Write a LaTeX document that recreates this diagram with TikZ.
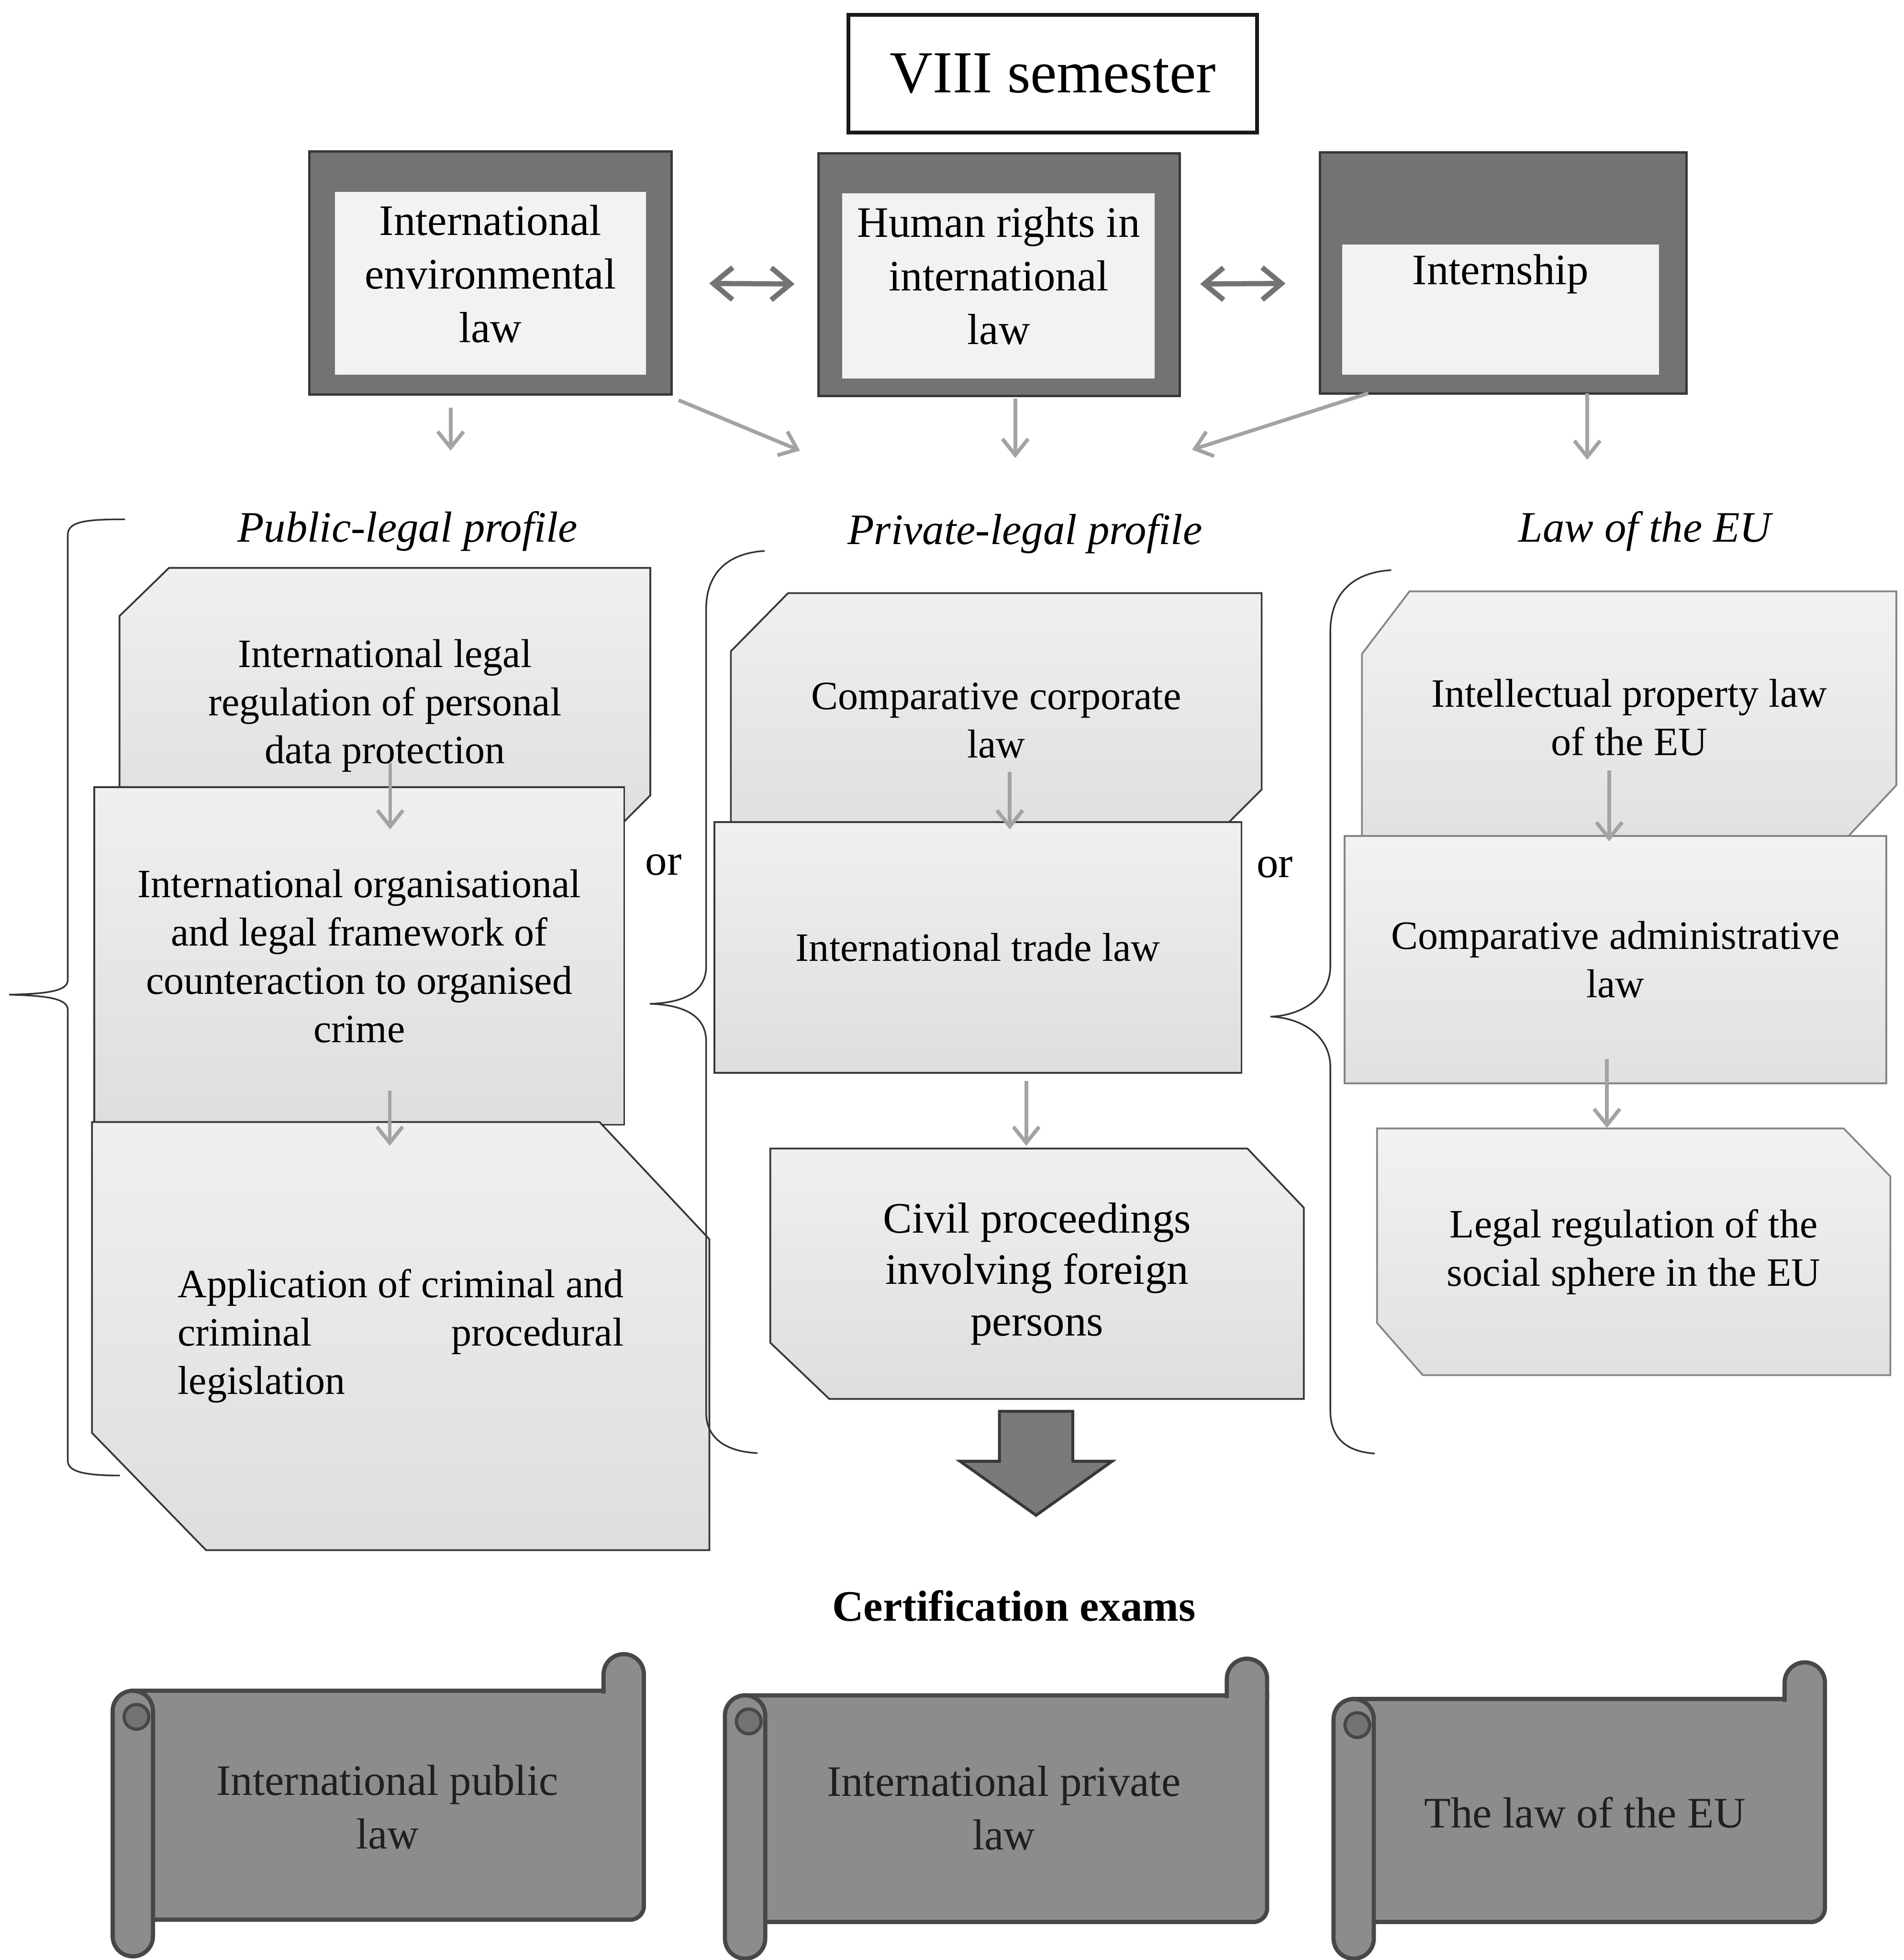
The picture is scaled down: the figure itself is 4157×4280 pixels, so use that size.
\documentclass[tikz,border=0pt]{standalone}
\usepackage{fontspec}
\setmainfont{Liberation Serif}
\usetikzlibrary{arrows.meta,calc}
\pgfdeclarelayer{bg}
\pgfsetlayers{bg,main}
\newcommand\fsz[2]{\fontsize{#1}{#2}\selectfont}
\newsavebox\firstline

% horizontal scroll: left, top, right, bottom (in px units)
\newcommand\drawscroll[4]{%
  \filldraw[scrollbody] (#1+44,#2+80) -- (#3,#2+80) [rounded corners=0.3cm] -- (#3,#4-80) -- (#1+44,#4-80) [sharp corners] -- cycle;
  \filldraw[scrollbody, rounded corners=0.44cm] (#3-88,#2+86) -- (#3-88,#2) -- (#3,#2) -- (#3,#2+86);
  \filldraw[scrollbody, rounded corners=0.44cm] (#1,#2+80) rectangle (#1+88,#4);
  \filldraw[curl] (#1+52,#2+137) circle[radius=0.27cm];
}

\begin{document}
\begin{tikzpicture}[x=0.01cm, y=-0.01cm,
  sembox/.style={draw=black!90, line width=2.4pt, fill=white, inner sep=0pt, font=\fsz{37}{44}},
  topframe/.style={draw=black!78, line width=1.5pt, fill=black!55, inner sep=0pt},
  topinner/.style={fill=black!5},
  toptxt/.style={font=\fsz{27}{33.3}, align=center, inner sep=0pt},
  slot/.style={inner sep=0pt, align=center, font=\fsz{25}{30}},
  darkedge/.style={draw=black!78, line width=1.1pt, top color=black!6, bottom color=black!13},
  lightedge/.style={draw=black!48, line width=1.1pt, top color=black!5, bottom color=black!12},
  arr/.style={draw=black!36, line width=2.3pt, -{Straight Barb[length=10pt,width=16pt]}},
  dblarr/.style={draw=black!55, line width=3.2pt, {Straight Barb[length=12pt,width=20pt]}-{Straight Barb[length=12pt,width=20pt]}},
  brace/.style={draw=black!80, line width=1pt},
  heading/.style={font=\fsz{27}{33}\itshape, inner sep=0pt},
  ortxt/.style={font=\fsz{27}{33}, inner sep=0pt},
  scrollbody/.style={fill=black!45, draw=black!72, line width=2.6pt},
  curl/.style={fill=black!55, draw=black!72, line width=2pt},
  scrolltxt/.style={font=\fsz{27}{33.3}, align=center, text=black!88, inner sep=0pt},
  bigarrow/.style={fill=black!52, draw=black!78, line width=1.8pt, line join=miter},
  certtxt/.style={font=\fsz{27}{33}\bfseries, inner sep=0pt}
]
\useasboundingbox (0,0) rectangle (4157,4280);
\begin{pgfonlayer}{bg}
  \fill[white] (0,0) rectangle (4157,4280);
\end{pgfonlayer}

% ---------- semester title ----------
\node[sembox, minimum width=8.92cm, minimum height=2.57cm] (sem) at (2299,161) {VIII semester};

% ---------- courses of the semester ----------
\node[topframe, minimum width=7.90cm, minimum height=5.30cm] (iel) at (1071,596) {};
\fill[topinner] ($(iel.north west)+(58,91)$) rectangle ($(iel.south east)+(-58,-46)$);
\node[toptxt] (ielT) at (1071,598) {International\\environmental\\law};

\node[topframe, minimum width=7.88cm, minimum height=5.29cm] (hr) at (2182,600) {};
\fill[topinner] ($(hr.north west)+(54,89)$) rectangle ($(hr.south east)+(-57,-41)$);
\node[toptxt] (hrT) at (2181,602) {Human rights in\\international\\law};

\node[topframe, minimum width=8.00cm, minimum height=5.26cm] (intern) at (3283,596) {};
\fill[topinner] ($(intern.north west)+(51,204)$) rectangle ($(intern.south east)+(-63,-44)$);
\node[toptxt] (intT) at (3277,598) {Internship};

\draw[dblarr] ($(iel.east)+(80,23)$) -- ($(hr.west)+(-50,20)$);
\draw[dblarr] ($(hr.east)+(42,20)$) -- ($(intern.west)+(-73,23)$);

% ---------- profile headings ----------
\node[heading] (pub) at (890,1160) {Public-legal profile};
\node[heading] (priv) at (2238,1165) {Private-legal profile};
\node[heading] (eu) at (3592,1160) {Law of the EU};

\coordinate (pubIn) at (984,984);
\coordinate (privInL) at (1747,984);
\coordinate (privIn) at (2217,1000);
\coordinate (privInR) at (2603,982);
\coordinate (euIn) at (3466,1004);

\draw[arr] ($(iel.south)+(-87,26)$) -- (pubIn);
\draw[arr] ($(iel.south east)+(13,10)$) -- (privInL);
\draw[arr] ($(hr.south)+(35,3)$) -- (privIn);
\draw[arr] ($(intern.south west)+(108,-3)$) -- (privInR);
\draw[arr] ($(intern.south)+(183,-3)$) -- (euIn);

% ---------- course blocks ----------
\node[slot, minimum width=11.57cm, minimum height=6.00cm] (L1) at (840.5,1541)
  {International legal\\regulation of personal\\data protection};
\node[slot, minimum width=11.55cm, minimum height=7.35cm] (L2) at (784.5,2087.5)
  {International organisational\\and legal framework of\\counteraction to organised\\crime};
\node[slot, minimum width=13.46cm, minimum height=9.33cm, align=left] (L3) at (875,2917.5)
  {\global\setbox\firstline\hbox{Application of criminal and}\copy\firstline\\
   \hbox to \wd\firstline{criminal\hfill procedural}\\
   legislation};

\node[slot, minimum width=11.57cm, minimum height=5.54cm] (C1) at (2175.5,1573)
  {Comparative corporate\\law};
\node[slot, minimum width=11.49cm, minimum height=5.46cm] (C2) at (2135.5,2069)
  {International trade law};
\node[slot, font=\fsz{27}{32}, minimum width=11.63cm, minimum height=5.45cm] (C3) at (2264.5,2781.5)
  {Civil proceedings\\involving foreign\\persons};

\node[slot, minimum width=11.65cm, minimum height=5.49cm] (R1) at (3557.5,1566.5)
  {Intellectual property law\\of the EU};
\node[slot, minimum width=11.81cm, minimum height=5.39cm] (R2) at (3527.5,2095.5)
  {Comparative administrative\\law};
\node[slot, minimum width=11.19cm, minimum height=5.37cm] (R3) at (3567.5,2733.5)
  {Legal regulation of the\\social sphere in the EU};

\begin{pgfonlayer}{bg}
  % public-legal column
  \path[darkedge] ($(L1.north west)+(108,0)$) -- (L1.north east) -- ($(L1.south east)+(0,-105)$)
    -- ($(L1.south east)+(-105,0)$) -- (L1.south west) -- ($(L1.north west)+(0,105)$) -- cycle;
  \path[darkedge] (L2.north west) rectangle (L2.south east);
  \path[darkedge] (L3.north west) -- ($(L3.north east)+(-240,0)$) -- ($(L3.north east)+(0,256)$)
    -- (L3.south east) -- ($(L3.south west)+(249,0)$) -- ($(L3.south west)+(0,-256)$) -- cycle;
  % private-legal column
  \path[darkedge] ($(C1.north west)+(125,0)$) -- (C1.north east) -- ($(C1.south east)+(0,-127)$)
    -- ($(C1.south east)+(-127,0)$) -- (C1.south west) -- ($(C1.north west)+(0,127)$) -- cycle;
  \path[darkedge] (C2.north west) rectangle (C2.south east);
  \path[darkedge] (C3.north west) -- ($(C3.north east)+(-123,0)$) -- ($(C3.north east)+(0,129)$)
    -- (C3.south east) -- ($(C3.south west)+(129,0)$) -- ($(C3.south west)+(0,-123)$) -- cycle;
  % EU law column
  \path[lightedge] ($(R1.north west)+(104,0)$) -- (R1.north east) -- ($(R1.south east)+(0,-127)$)
    -- ($(R1.south east)+(-120,0)$) -- (R1.south west) -- ($(R1.north west)+(0,137)$) -- cycle;
  \path[lightedge] (R2.north west) rectangle (R2.south east);
  \path[lightedge] (R3.north west) -- ($(R3.north east)+(-102,0)$) -- ($(R3.north east)+(0,105)$)
    -- (R3.south east) -- ($(R3.south west)+(100,0)$) -- ($(R3.south west)+(0,-114)$) -- cycle;
\end{pgfonlayer}

\draw[arr] ($(L1.south)+(11.5,-175)$) -- ($(L2.north)+(67.5,92)$);
\draw[arr] ($(L2.south)+(66.5,-75)$) -- ($(L3.north)+(-24,52)$);
\draw[arr] ($(C1.south)+(29.5,-165)$) -- ($(C2.north)+(69.5,16)$);
\draw[arr] ($(C2.south)+(105.5,18)$) -- ($(C3.north)+(-23.5,-6)$);
\draw[arr] ($(R1.south)+(-43.5,-160)$) -- ($(R2.north)+(-13.5,12)$);
\draw[arr] ($(R2.south)+(-18.5,-54)$) -- ($(R3.north)+(-58.5,-1)$);

\node[ortxt] (or1) at (1449,1889) {or};
\node[ortxt] (or2) at (2784,1894) {or};

% ---------- braces grouping each profile ----------
\draw[brace] (273,1134) .. controls (190,1134) and (148,1138) .. (148,1168) -- (148,2140)
  .. controls (148,2165) and (100,2170) .. (20,2172) .. controls (100,2174) and (148,2180) .. (148,2205)
  -- (148,3190) .. controls (148,3215) and (190,3222) .. (262,3222);
\draw[brace] (1670,1203) .. controls (1585,1208) and (1542,1255) .. (1542,1330) -- (1542,2110)
  .. controls (1542,2168) and (1490,2190) .. (1419,2192) .. controls (1490,2194) and (1542,2216) .. (1542,2274)
  -- (1542,3085) .. controls (1542,3140) and (1585,3170) .. (1654,3173);
\draw[brace] (3038,1245) .. controls (2950,1250) and (2905,1300) .. (2905,1380) -- (2905,2110)
  .. controls (2905,2180) and (2840,2218) .. (2774,2220) .. controls (2840,2222) and (2905,2260) .. (2905,2330)
  -- (2905,3080) .. controls (2905,3140) and (2940,3170) .. (3002,3174);

% ---------- towards the exams ----------
\coordinate (bigA) at ($(C3.south)+(-2,27)$);
\draw[bigarrow] ($(bigA)+(-80,0)$) -- ++(160,0) -- ++(0,109) -- ++(86,0) -- ++(-166,118)
  -- ++(-166,-118) -- ++(86,0) -- cycle;

\node[certtxt] (cert) at (2214,3507) {Certification exams};

\drawscroll{246}{3612}{1406}{4272}
\drawscroll{1583}{3622}{2767}{4277}
\drawscroll{2912}{3630}{3985}{4277}

\node[scrolltxt] (ex1) at (846,3946) {International public\\law};
\node[scrolltxt] (ex2) at (2192,3948) {International private\\law};
\node[scrolltxt] (ex3) at (3461,3958) {The law of the EU};
\end{tikzpicture}
\end{document}
